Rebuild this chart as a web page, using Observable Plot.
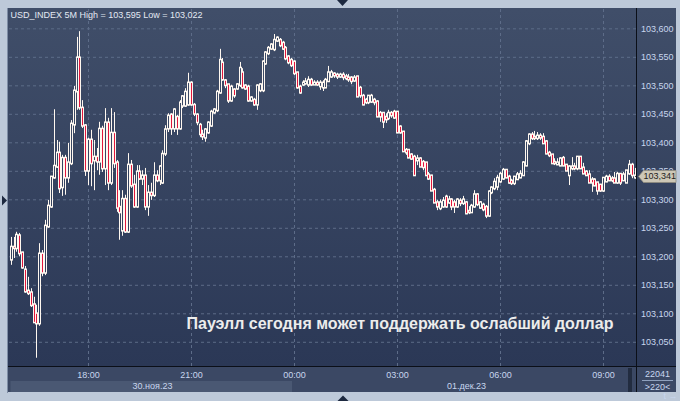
<!DOCTYPE html>
<html><head><meta charset="utf-8">
<script src="https://cdn.jsdelivr.net/npm/d3@7"></script>
<script src="https://cdn.jsdelivr.net/npm/@observablehq/plot@0.6"></script>
<style>
html,body{margin:0;padding:0;background:#bdc9d9;}
#chart{width:680px;height:401px;overflow:hidden}
svg{display:block}
</style></head><body><div id="chart"></div>
<script>
// ---- data (5-minute candles, USD_INDEX) ----
const startTime = "2023-11-30T15:45";
const open = [
103.195,103.216,103.215,103.236,103.206,103.176,103.139,103.136,103.115,103.099,103.083,103.204,103.172,103.253,103.288,103.339,103.358,103.381,103.322,103.372,103.339,103.364,103.432,103.490,103.548,103.460,103.429,103.351,103.404,103.369,103.374,103.367,103.423,103.355,103.434,103.330,103.416,103.364,103.286,103.246,103.300,103.244,103.360,103.325,103.288,103.348,103.337,103.341,103.288,103.311,103.308,103.341,103.334,
103.330,103.381,103.425,103.448,103.425,103.444,103.425,103.465,103.465,103.467,103.504,103.465,103.448,103.430,103.413,103.409,103.418,103.430,103.453,103.457,103.488,103.539,103.508,103.501,103.474,103.492,103.495,103.501,103.522,103.499,103.497,103.474,103.474,103.467,103.492,103.492,103.539,103.557,103.565,103.564,103.579,103.579,103.574,103.565,103.550,103.544,103.541,103.522,103.497,103.502,103.504,103.502,103.509,103.502,103.504,
103.499,103.497,103.497,103.508,103.516,103.520,103.518,103.516,103.518,103.515,103.513,103.513,103.509,103.515,103.495,103.481,103.474,103.471,103.472,103.474,103.471,103.451,103.451,103.444,103.443,103.451,103.453,103.453,103.427,103.418,103.386,103.386,103.378,103.374,103.369,103.371,103.365,103.364,103.343,103.341,103.316,103.294,103.285,103.288,103.304,103.295,103.299,103.294,103.288,103.297,103.294,103.294,103.279,103.278,103.288,103.308,
103.286,103.290,103.286,103.272,103.313,103.320,103.323,103.332,103.337,103.351,103.339,103.332,103.329,103.336,103.339,103.343,103.360,103.399,103.413,103.409,103.408,103.411,103.409,103.401,103.381,103.378,103.365,103.362,103.360,103.372,103.360,103.343,103.355,103.357,103.355,103.374,103.355,103.348,103.343,103.334,103.334,103.329,103.325,103.316,103.332,103.339,103.336,103.336,103.330,103.344,103.334,103.330,103.346,103.360,103.339];
const high = [
103.234,103.234,103.243,103.241,103.208,103.183,103.164,103.144,103.129,103.115,103.223,103.211,103.264,103.299,103.341,103.458,103.404,103.401,103.378,103.378,103.399,103.439,103.499,103.585,103.595,103.474,103.432,103.408,103.422,103.404,103.390,103.436,103.429,103.460,103.443,103.460,103.453,103.369,103.316,103.316,103.308,103.381,103.369,103.343,103.360,103.360,103.351,103.355,103.325,103.329,103.365,103.351,103.360,
103.386,103.430,103.451,103.451,103.460,103.448,103.474,103.483,103.495,103.522,103.507,103.469,103.451,103.434,103.422,103.425,103.437,103.457,103.460,103.492,103.564,103.548,103.511,103.502,103.501,103.495,103.504,103.541,103.530,103.502,103.501,103.481,103.478,103.502,103.504,103.544,103.560,103.569,103.574,103.590,103.586,103.583,103.578,103.569,103.553,103.548,103.544,103.523,103.501,103.509,103.513,103.516,103.513,103.509,103.509,
103.509,103.509,103.513,103.534,103.527,103.523,103.522,103.522,103.523,103.520,103.520,103.516,103.518,103.516,103.499,103.485,103.478,103.483,103.485,103.478,103.474,103.455,103.453,103.451,103.457,103.455,103.457,103.455,103.430,103.420,103.390,103.388,103.381,103.378,103.378,103.374,103.369,103.365,103.348,103.343,103.320,103.299,103.300,103.304,103.308,103.306,103.302,103.299,103.302,103.302,103.306,103.297,103.288,103.292,103.316,103.311,
103.297,103.294,103.290,103.316,103.323,103.337,103.343,103.348,103.355,103.353,103.343,103.336,103.341,103.348,103.351,103.367,103.404,103.416,103.418,103.420,103.418,103.416,103.416,103.404,103.385,103.379,103.372,103.372,103.374,103.376,103.362,103.360,103.374,103.364,103.376,103.376,103.364,103.351,103.351,103.339,103.337,103.330,103.327,103.339,103.343,103.344,103.341,103.348,103.348,103.346,103.348,103.351,103.369,103.364,103.355];
const low = [
103.185,103.197,103.208,103.200,103.178,103.136,103.132,103.111,103.083,103.022,103.078,103.165,103.167,103.250,103.285,103.336,103.355,103.311,103.306,103.308,103.329,103.360,103.416,103.457,103.457,103.425,103.341,103.325,103.323,103.316,103.351,103.343,103.348,103.325,103.316,103.325,103.355,103.278,103.229,103.236,103.241,103.241,103.320,103.285,103.285,103.334,103.325,103.281,103.271,103.299,103.304,103.330,103.325,
103.327,103.376,103.418,103.413,103.418,103.413,103.422,103.460,103.462,103.464,103.464,103.446,103.430,103.409,103.404,103.401,103.415,103.427,103.450,103.453,103.485,103.508,103.495,103.469,103.471,103.478,103.492,103.497,103.494,103.492,103.471,103.471,103.464,103.457,103.488,103.488,103.536,103.553,103.562,103.560,103.576,103.567,103.562,103.544,103.537,103.532,103.518,103.494,103.485,103.499,103.501,103.497,103.499,103.501,103.499,
103.492,103.490,103.495,103.506,103.513,103.513,103.511,103.513,103.509,103.509,103.506,103.502,103.506,103.480,103.478,103.465,103.467,103.467,103.469,103.465,103.444,103.436,103.425,103.434,103.439,103.443,103.441,103.416,103.415,103.383,103.378,103.372,103.369,103.341,103.360,103.357,103.351,103.341,103.334,103.315,103.294,103.281,103.281,103.285,103.285,103.292,103.281,103.276,103.285,103.288,103.290,103.274,103.274,103.276,103.285,103.288,
103.283,103.279,103.267,103.269,103.309,103.316,103.316,103.329,103.334,103.337,103.327,103.325,103.325,103.334,103.337,103.341,103.358,103.395,103.404,103.404,103.404,103.404,103.397,103.379,103.374,103.362,103.360,103.360,103.358,103.358,103.350,103.325,103.351,103.351,103.351,103.353,103.344,103.341,103.329,103.313,103.323,103.308,103.313,103.313,103.330,103.332,103.330,103.329,103.327,103.325,103.332,103.329,103.343,103.337,103.336];
const close = [
103.216,103.215,103.237,103.206,103.181,103.139,103.136,103.115,103.085,103.083,103.204,103.172,103.253,103.288,103.339,103.358,103.381,103.320,103.372,103.339,103.364,103.432,103.490,103.548,103.462,103.430,103.351,103.404,103.364,103.374,103.367,103.423,103.355,103.434,103.330,103.416,103.364,103.286,103.278,103.300,103.244,103.360,103.325,103.288,103.348,103.337,103.341,103.288,103.311,103.308,103.341,103.334,103.357,
103.379,103.422,103.446,103.425,103.457,103.425,103.469,103.480,103.488,103.504,103.467,103.451,103.436,103.415,103.411,103.422,103.434,103.453,103.457,103.488,103.544,103.511,103.501,103.474,103.497,103.483,103.501,103.530,103.497,103.495,103.474,103.478,103.467,103.499,103.501,103.541,103.557,103.565,103.571,103.579,103.583,103.571,103.565,103.548,103.541,103.536,103.522,103.497,103.488,103.504,103.506,103.509,103.502,103.504,103.502,
103.504,103.504,103.509,103.522,103.522,103.518,103.516,103.518,103.515,103.513,103.511,103.508,103.513,103.481,103.483,103.467,103.471,103.481,103.481,103.471,103.446,103.446,103.437,103.441,103.451,103.448,103.444,103.418,103.418,103.385,103.383,103.374,103.372,103.343,103.371,103.358,103.357,103.343,103.337,103.316,103.295,103.288,103.294,103.297,103.288,103.299,103.288,103.288,103.299,103.294,103.299,103.276,103.278,103.288,103.308,103.292,
103.294,103.283,103.272,103.313,103.320,103.330,103.337,103.344,103.351,103.339,103.330,103.329,103.339,103.343,103.344,103.364,103.401,103.413,103.408,103.408,103.411,103.409,103.399,103.381,103.378,103.364,103.364,103.364,103.371,103.360,103.351,103.357,103.357,103.355,103.374,103.355,103.346,103.343,103.330,103.330,103.325,103.316,103.316,103.337,103.339,103.334,103.334,103.330,103.344,103.330,103.343,103.350,103.360,103.343,103.341];

const yTicks = [103.05, 103.10, 103.15, 103.20, 103.25, 103.30, 103.35, 103.40, 103.45, 103.50, 103.55, 103.60];
const xTickTimes = ["2023-11-30T18:00", "2023-11-30T21:00", "2023-12-01T00:00", "2023-12-01T03:00", "2023-12-01T06:00", "2023-12-01T09:00"];
const dayLabels = ["30.ноя.23", "01.дек.23"];
const dayStart = "2023-12-01T00:00";
const titleText = "USD_INDEX 5M High = 103,595 Low = 103,022";
const noteText = "Пауэлл сегодня может поддержать ослабший доллар";
const barsInfo = ["22041", ">220<"];

// ---- build ----
const parse = d3.utcParse("%Y-%m-%dT%H:%M");
const t0 = parse(startTime);
const candles = close.map((c, i) => ({t: new Date(+t0 + i * 300000), open: open[i], high: high[i], low: low[i], close: c}));
const tLast = candles[candles.length - 1].t;
const xTicks = xTickTimes.map(parse);
const midnight = parse(dayStart);
const xDomain = [new Date(+t0 - 180000), new Date(+tLast + 156000)];
const dayData = [
  {t: new Date((+xDomain[0] + +midnight) / 2), label: dayLabels[0]},
  {t: new Date((+midnight + +xDomain[1]) / 2 + 60000), label: dayLabels[1]}
];
const last = candles[candles.length - 1];
const fmt = d => d.toFixed(3).replace(".", ",");
const bear = candles.filter(d => d.close < d.open);
const bull = candles.filter(d => d.close >= d.open);
const W = "#fff8f0", RED = "#e2163c", LBL = "#c8d6ee";
const FONT = "'Liberation Sans', Arial, sans-serif";

function backdrop(index, s, v, dim) {
  const g = d3.create("svg:g");
  const lg = g.append("defs").append("linearGradient").attr("id", "panelGrad")
    .attr("gradientUnits", "userSpaceOnUse").attr("x1", 0).attr("y1", 9).attr("x2", 0).attr("y2", 366);
  lg.append("stop").attr("offset", 0).attr("stop-color", "#404e69");
  lg.append("stop").attr("offset", 1).attr("stop-color", "#2b3856");
  g.append("rect").attr("x", 8).attr("y", 8).attr("width", 668).attr("height", 359).attr("fill", "url(#panelGrad)");
  g.append("rect").attr("x", 8).attr("y", 367).attr("width", 668).attr("height", 25).attr("fill", "#3b4864");
  const xa = s.x(t0) - 0.5, xm = s.x(midnight) - 2;
  g.append("rect").attr("x", xa).attr("y", 381).attr("width", xm - xa).attr("height", 11).attr("fill", "#4a5873");
  g.append("rect").attr("x", 628).attr("y", 368).attr("width", 4).attr("height", 24).attr("fill", "#222c40");
  g.append("line").attr("x1", 7.5).attr("x2", 7.5).attr("y1", 8).attr("y2", 393).attr("stroke", "#7f8ea6");
  return g.node();
}

function frameLines(index, s, v, dim) {
  const g = d3.create("svg:g");
  g.append("line").attr("x1", 8).attr("x2", 676).attr("y1", 366.5).attr("y2", 366.5).attr("stroke", "#0b0f18");
  g.append("line").attr("x1", 636.5).attr("x2", 636.5).attr("y1", 8).attr("y2", 392).attr("stroke", "#0b0f18");
  g.append("line").attr("x1", 642).attr("x2", 673).attr("y1", 380.5).attr("y2", 380.5).attr("stroke", "#8fa0bd");
  const tri = "#1d2940";
  g.append("path").attr("d", "M337,0H348L342.5,6Z").attr("fill", tri);
  g.append("path").attr("d", "M337.5,401H348.5L343,395.5Z").attr("fill", tri);
  g.append("path").attr("d", "M2,195.5V205.5L7,200.5Z").attr("fill", tri);
  return g.node();
}

function priceBox(index, s, v, dim) {
  const yc = Math.round(s.y(last.close)) + 0.5;
  const g = d3.create("svg:g");
  g.append("path").attr("d", `M638.5,${yc}L643.5,${yc - 6}H676V${yc + 6}H643.5Z`)
    .attr("fill", "#cdc7b6").attr("stroke", "#8e8a7e").attr("stroke-width", 0.8);
  return g.node();
}

const chart = Plot.plot({
  width: 680, height: 401,
  marginLeft: 9, marginRight: 44, marginTop: 9, marginBottom: 35,
  style: {background: "#bdc9d9", fontFamily: FONT, fontSize: "9px", color: LBL, overflow: "visible"},
  x: {type: "utc", domain: xDomain, axis: null, round: true},
  y: {domain: [103.0075, 103.6339], axis: null},
  marks: [
    backdrop,
    Plot.gridY(yTicks, {stroke: "#5d6c88", strokeOpacity: 1, strokeDasharray: "3,3"}),
    Plot.gridX(xTicks, {stroke: "#5d6c88", strokeOpacity: 1, strokeDasharray: "3,3"}),
    Plot.ruleX(candles, {x: "t", y1: "low", y2: "high", stroke: W, strokeWidth: 1}),
    Plot.ruleX(candles, {x: "t", y1: "open", y2: "close", stroke: W, strokeWidth: 3, strokeLinecap: "square"}),
    Plot.ruleX(bear, {x: "t", y1: "open", y2: "close", stroke: RED, strokeWidth: 1}),
    Plot.ruleX(bull, {x: "t", y1: "open", y2: "close", stroke: "url(#panelGrad)", strokeWidth: 1}),
    Plot.axisY(yTicks, {anchor: "right", tickSize: 0, tickPadding: 4.5, tickFormat: fmt, fill: LBL, fontSize: 9}),
    Plot.axisX(xTicks, {anchor: "bottom", tickSize: 0, tickPadding: 5.5, tickFormat: d3.utcFormat("%H:%M"), fill: LBL, fontSize: 9}),
    Plot.text(dayData, {x: "t", text: "label", frameAnchor: "bottom", lineAnchor: "middle", dy: 20, fill: LBL, fontSize: 9}),
    Plot.text([titleText], {frameAnchor: "top-left", dx: 1, dy: 2.6, fill: "#e3e9f3", fontSize: 9, textAnchor: "start"}),
    Plot.text([noteText], {frameAnchor: "top-left", dx: 177, dy: 308.6, fill: "#ececec", fontSize: 16, fontWeight: "bold", textAnchor: "start"}),
    frameLines,
    priceBox,
    Plot.text([last], {y: "close", text: d => fmt(d.close), frameAnchor: "right", dx: 7, textAnchor: "start", lineAnchor: "middle", fill: "#1e1e1e", fontSize: 9}),
    Plot.text([barsInfo[0]], {frameAnchor: "bottom-right", dx: 21, dy: 7.5, lineAnchor: "middle", textAnchor: "middle", fill: LBL, fontSize: 9}),
    Plot.text([barsInfo[1]], {frameAnchor: "bottom-right", dx: 21, dy: 20.5, lineAnchor: "middle", textAnchor: "middle", fill: LBL, fontSize: 9})
  ]
});
document.getElementById("chart").appendChild(chart);
</script>
</body></html>
